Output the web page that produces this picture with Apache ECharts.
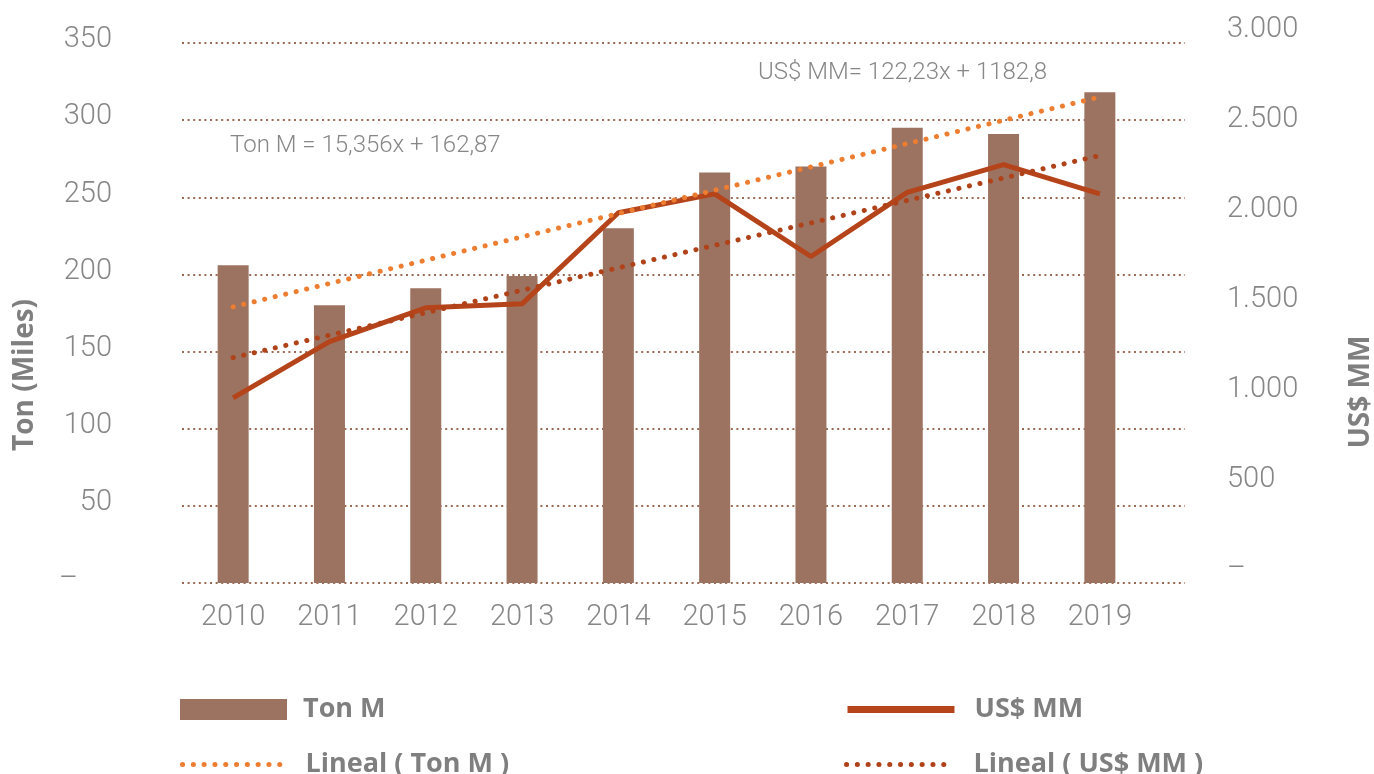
<!DOCTYPE html>
<html>
<head>
<meta charset="utf-8">
<title>Ton M / US$ MM</title>
<script src="https://cdn.jsdelivr.net/npm/echarts@6/dist/echarts.min.js"></script>
<style>
    html, body { margin: 0; padding: 0; background: #fff; }
    #chart { width: 1374px; height: 774px; }
</style>
</head>
<body>
<div id="chart"></div>
<script>
// data
const years = ['2010', '2011', '2012', '2013', '2014', '2015', '2016', '2017', '2018', '2019'];
const tonM = [206, 180, 191, 199, 230, 266, 270, 295, 291, 318];
const usdMM = [1028, 1341, 1529, 1551, 2057, 2162, 1814, 2170, 2324, 2162];
// trend lines: only the two ends are drawn, the rest is left empty
const tonTrend = [179, null, null, null, null, null, null, null, null, 315];
const usdTrend = [1252, null, null, null, null, null, null, null, null, 2375];
const tonTrendLabel = 'Ton M = 15,356x + 162,87';
const usdTrendLabel = 'US$ MM= 122,23x + 1182,8';

const GREY = '#878787';
const LIGHT = 'Roboto';
const BOLD = '"Open Sans"';
const BAR_COLOR = '#9c7260';
const LINE_COLOR = '#b5441a';
const TON_TREND_COLOR = '#ed7d31';
const USD_TREND_COLOR = '#b0421a';

const labelStyle = {
    fontFamily: LIGHT,
    fontWeight: 300,
    fontSize: 29,
    color: GREY,
};

const boldText = {
    fontFamily: BOLD,
    fontWeight: 'bold',
    fontSize: 27,
    color: '#7f7f7f',
};

const legendBase = {
    itemWidth: 107,
    itemHeight: 21,
    padding: 0,
    selectedMode: false,
    textStyle: {
        ...boldText,
        padding: [0, 0, 0, 11],
    },
};

// line legends: keep the line, hide the default marker
const lineLegend = pad => ({
    ...legendBase,
    itemStyle: { opacity: 0 },
    textStyle: {
        ...boldText,
        padding: [0, 0, 0, pad],
    },
});

const DOTS = { width: 5, type: [0.1, 10.7], cap: 'round' };

const trendLine = color => ({ color, ...DOTS });

const myChart = echarts.init(document.getElementById('chart'));

const option = {
    backgroundColor: '#fff',
    animation: false,
    grid: [
        // full width grid: carries the dotted grid lines and the value axes
        { left: 182, right: 189, top: 43, bottom: 191 },
        // data grid: the year bands
        { left: 185, right: 226, top: 43, bottom: 191 },
    ],
    xAxis: [
        {
            type: 'category',
            gridIndex: 0,
            data: years,
            show: false,
        },
        {
            type: 'category',
            gridIndex: 1,
            data: years,
            axisLine: { show: false },
            axisTick: { show: false },
            axisLabel: { ...labelStyle, margin: 20 },
        },
    ],
    yAxis: [
        {
            type: 'value',
            gridIndex: 0,
            min: 0,
            max: 350,
            interval: 50,
            axisLine: { show: false },
            axisTick: { show: false },
            axisLabel: {
                ...labelStyle,
                margin: 70,
                padding: [0, 0, 6, 0],
                formatter: v => (v === 0 ? '{d|–}' : String(v)),
                rich: {
                    d: { ...labelStyle, padding: [0, 34, 0, 0] },
                },
            },
            splitLine: {
                show: true,
                lineStyle: {
                    color: '#9a6a55',
                    width: 2,
                    type: [2, 3.6],
                },
            },
        },
        {
            type: 'value',
            gridIndex: 0,
            position: 'right',
            min: 0,
            max: 3000,
            interval: 500,
            axisLine: { show: false },
            axisTick: { show: false },
            splitLine: { show: false },
            axisLabel: {
                ...labelStyle,
                margin: 42,
                verticalAlign: 'bottom',
                lineHeight: 26,
                formatter: v => (v === 0 ? '–' : String(v).replace(/\B(?=(\d{3})+(?!\d))/g, '.')),
            },
        },
        {
            type: 'value',
            gridIndex: 1,
            min: 0,
            max: 350,
            show: false,
        },
        {
            type: 'value',
            gridIndex: 1,
            min: 0,
            max: 3000,
            show: false,
        },
    ],
    legend: [
        { ...legendBase, icon: 'rect', data: ['Ton M'], left: 180, top: 696 },
        { ...lineLegend(15), data: ['US$ MM'], left: 844, top: 696, lineStyle: { width: 7 } },
        { ...lineLegend(11), data: ['Lineal ( Ton M )'], left: 180, top: 751, lineStyle: DOTS },
        { ...lineLegend(15), data: ['Lineal ( US$ MM )'], left: 844, top: 751, lineStyle: DOTS },
    ],
    graphic: [
        {
            type: 'text',
            x: 25,
            y: 375,
            rotation: Math.PI / 2,
            style: {
                text: 'Ton (Miles)',
                font: 'bold 28px "Open Sans"',
                fill: '#7f7f7f',
                align: 'center',
                verticalAlign: 'middle',
            },
        },
        {
            type: 'text',
            x: 1361,
            y: 392,
            rotation: Math.PI / 2,
            style: {
                text: 'US$ MM',
                font: 'bold 28px "Open Sans"',
                fill: '#7f7f7f',
                align: 'center',
                verticalAlign: 'middle',
            },
        },
        {
            type: 'text',
            x: 230,
            y: 146,
            style: {
                text: tonTrendLabel,
                font: '300 24px Roboto',
                fill: GREY,
                verticalAlign: 'middle',
            },
        },
        {
            type: 'text',
            x: 758,
            y: 73,
            style: {
                text: usdTrendLabel,
                font: '300 24px Roboto',
                fill: GREY,
                verticalAlign: 'middle',
            },
        },
    ],
    series: [
        {
            name: 'Ton M',
            type: 'bar',
            xAxisIndex: 1,
            yAxisIndex: 2,
            barWidth: 31,
            itemStyle: { color: BAR_COLOR },
            data: tonM,
        },
        {
            name: 'US$ MM',
            type: 'line',
            xAxisIndex: 1,
            yAxisIndex: 3,
            symbol: 'none',
            itemStyle: { color: LINE_COLOR },
            lineStyle: { color: LINE_COLOR, width: 5 },
            data: usdMM,
        },
        {
            name: 'Lineal ( Ton M )',
            type: 'line',
            xAxisIndex: 1,
            yAxisIndex: 2,
            symbol: 'none',
            connectNulls: true,
            itemStyle: { color: TON_TREND_COLOR },
            lineStyle: trendLine(TON_TREND_COLOR),
            data: tonTrend,
        },
        {
            name: 'Lineal ( US$ MM )',
            type: 'line',
            xAxisIndex: 1,
            yAxisIndex: 3,
            symbol: 'none',
            connectNulls: true,
            itemStyle: { color: USD_TREND_COLOR },
            lineStyle: trendLine(USD_TREND_COLOR),
            data: usdTrend,
        },
    ],
};

myChart.setOption(option);
</script>
</body>
</html>
